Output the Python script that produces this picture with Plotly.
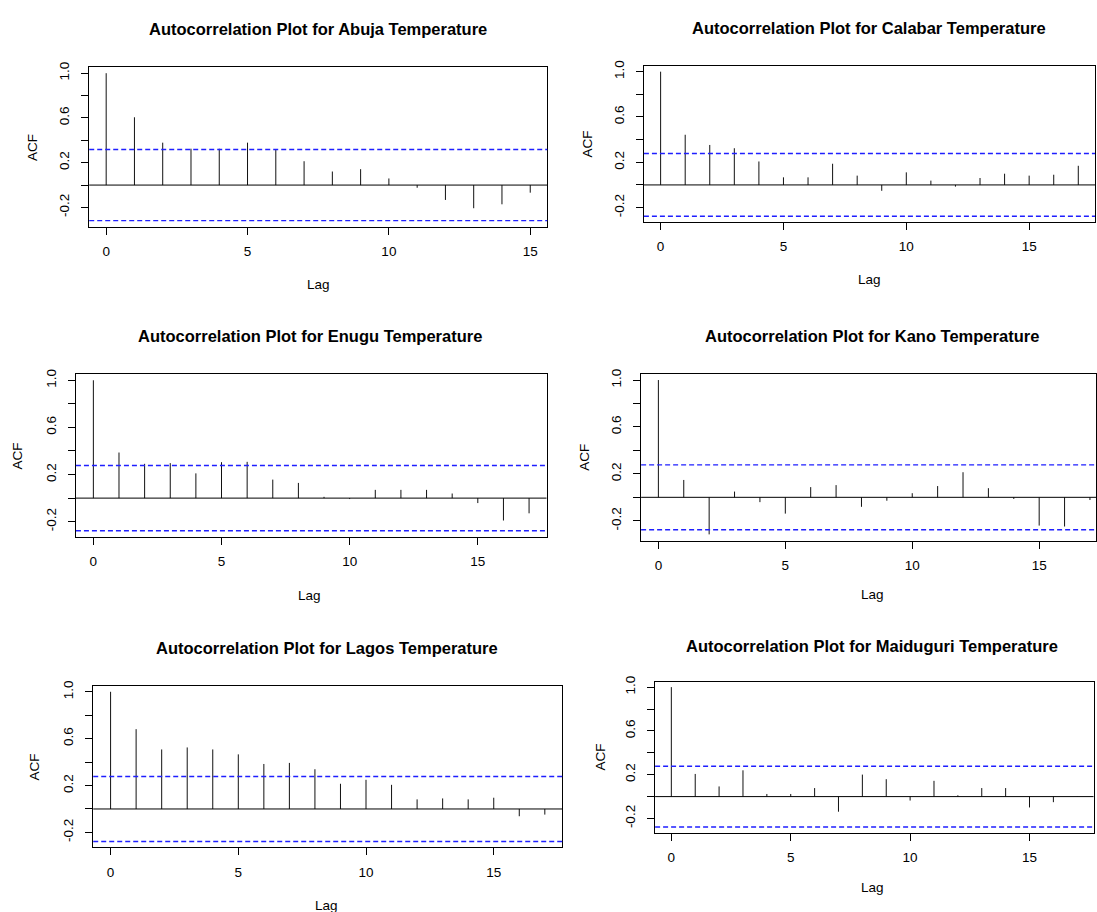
import plotly.graph_objects as go

# ---------------- data ----------------
cities = ["Abuja", "Calabar", "Enugu", "Kano", "Lagos", "Maiduguri"]

acf_abuja = [1.0, 0.606, 0.379, 0.325, 0.325, 0.379, 0.317, 0.213, 0.121, 0.142,
             0.059, -0.024, -0.133, -0.207, -0.172, -0.068]
acf_calabar = [1.0, 0.443, 0.353, 0.324, 0.207, 0.067, 0.067, 0.187, 0.082, -0.052,
               0.111, 0.038, -0.015, 0.061, 0.099, 0.082, 0.090, 0.169]
acf_enugu = [1.0, 0.387, 0.291, 0.297, 0.210, 0.305, 0.308, 0.157, 0.129, 0.011,
             -0.008, 0.070, 0.070, 0.070, 0.039, -0.042, -0.190, -0.129]
acf_kano = [1.0, 0.148, -0.316, 0.049, -0.041, -0.139, 0.087, 0.104, -0.081, -0.029,
            0.035, 0.096, 0.214, 0.078, -0.014, -0.241, -0.249, -0.023]
acf_lagos = [1.0, 0.681, 0.508, 0.525, 0.508, 0.466, 0.384, 0.393, 0.339, 0.215,
             0.249, 0.206, 0.082, 0.090, 0.082, 0.096, -0.062, -0.048]
acf_maiduguri = [1.0, 0.207, 0.093, 0.240, 0.024, 0.024, 0.078, -0.138, 0.201, 0.159,
                 -0.036, 0.144, 0.012, 0.078, 0.078, -0.099, -0.051, 0.002]

acf_series = [acf_abuja, acf_calabar, acf_enugu, acf_kano, acf_lagos, acf_maiduguri]
conf_limits = [0.318, 0.277, 0.277, 0.277, 0.277, 0.277]

y_tick_vals = [-0.2, 0.0, 0.2, 0.4, 0.6, 0.8, 1.0]
y_tick_text = ["-0.2", "", "0.2", "", "0.6", "", "1.0"]
x_tick_vals = [0, 5, 10, 15]

# ---------------- layout geometry (pixels in the 1097x912 page) ----------------
W, H = 1097, 912
panels = [
    dict(L=89.3, R=547.7, T=61.7, B=222.0, ty=23, tx=318.5, lagx=318.5, lagy=280, acfx=33),
    dict(L=644.5, R=1096.0, T=60.3, B=217.5, ty=22, tx=870, lagx=870, lagy=275, acfx=589),
    dict(L=76.0, R=547.0, T=370.7, B=534.3, ty=332, tx=310, lagx=310, lagy=593, acfx=18),
    dict(L=641.7, R=1097.0, T=370.3, B=538.1, ty=332, tx=873, lagx=873, lagy=592, acfx=585,
         ppl=25.41),
    dict(L=93.3, R=562.7, T=684.3, B=847.0, ty=646, tx=327, lagx=327, lagy=905, acfx=35),
    dict(L=655.7, R=1094.5, T=680.0, B=832.0, ty=644, tx=873, lagx=873, lagy=887, acfx=601),
]

FONT = "Liberation Sans, Arial, sans-serif"
TICK_SIZE = 13.5

fig = go.Figure()
annotations = []
shapes = []

for i, (city, acf, clim, p) in enumerate(zip(cities, acf_series, conf_limits, panels)):
    k = "" if i == 0 else str(i + 1)
    xa, ya = "x" + k, "y" + k
    lags = list(range(len(acf)))
    maxlag = lags[-1]

    # stems (type = "h")
    xs, ys = [], []
    for lag, v in zip(lags, acf):
        xs += [lag, lag, None]
        ys += [0, v, None]
    fig.add_trace(go.Scatter(x=xs, y=ys, mode="lines", xaxis=xa, yaxis=ya,
                             line=dict(color="#111111", width=1), showlegend=False,
                             hoverinfo="skip"))

    # R-style axis ranges (4% extension)
    x0 = -0.04 * maxlag
    x1 = 1.04 * maxlag
    if "ppl" in p:
        x1 = x0 + (p["R"] - p["L"]) / p["ppl"]
    lo = min(-clim, min(acf))
    hi = max(clim, max(acf))
    pad = 0.04 * (hi - lo)
    y0, y1 = lo - pad, hi + pad

    axis_common = dict(showgrid=False, zeroline=False, showline=True, mirror=True,
                       linecolor="black", linewidth=1, ticks="outside", ticklen=7,
                       tickwidth=1, tickcolor="black",
                       tickfont=dict(family=FONT, size=TICK_SIZE, color="black"))
    fig.layout["xaxis" + k] = dict(
        axis_common, domain=[p["L"] / W, p["R"] / W], range=[x0, x1],
        anchor=ya, tickvals=x_tick_vals, ticktext=[str(v) for v in x_tick_vals],
        ticklabelstandoff=5)
    fig.layout["yaxis" + k] = dict(
        axis_common, domain=[1 - p["B"] / H, 1 - p["T"] / H], range=[y0, y1],
        anchor=xa, tickvals=y_tick_vals, ticktext=y_tick_text, tickangle=-90,
        ticklabelstandoff=7)

    # horizontal zero line and confidence bounds
    shapes.append(dict(type="line", xref=xa + " domain", yref=ya, x0=0, x1=1,
                       y0=0, y1=0, line=dict(color="black", width=1)))
    for c in (clim, -clim):
        shapes.append(dict(type="line", xref=xa + " domain", yref=ya, x0=0, x1=1,
                           y0=c, y1=c, line=dict(color="#1f1fff", width=1.4,
                                                 dash="5px,3px")))

    # title and axis labels
    annotations.append(dict(text="<b>Autocorrelation Plot for %s Temperature</b>" % city,
                            xref="paper", yref="paper", x=p["tx"] / W, y=1 - p["ty"] / H,
                            xanchor="center", yanchor="middle", showarrow=False,
                            font=dict(family=FONT, size=16.5, color="black")))
    annotations.append(dict(text="Lag", xref="paper", yref="paper",
                            x=p["lagx"] / W, y=1 - p["lagy"] / H,
                            xanchor="center", yanchor="middle", showarrow=False,
                            font=dict(family=FONT, size=TICK_SIZE, color="black")))
    annotations.append(dict(text="ACF", xref="paper", yref="paper", textangle=-90,
                            x=p["acfx"] / W, y=1 - ((p["T"] + p["B"]) / 2) / H,
                            xanchor="center", yanchor="middle", showarrow=False,
                            font=dict(family=FONT, size=TICK_SIZE, color="black")))

fig.update_layout(width=W, height=H, margin=dict(l=0, r=0, t=0, b=0),
                  paper_bgcolor="white", plot_bgcolor="white",
                  annotations=annotations, shapes=shapes, showlegend=False)

# pin the figure to the top-left corner of the window (no default page margin)
fig.write_html(
    "out.html",
    config={"displayModeBar": False},
    post_script=(
        "document.documentElement.style.margin='0px';"
        "document.body.style.margin='0px';"
        "document.body.style.overflow='hidden';"
        "var d=document.getElementById('{plot_id}');"
        "d.style.position='fixed';d.style.left='0px';d.style.top='0px';"
    ),
)
